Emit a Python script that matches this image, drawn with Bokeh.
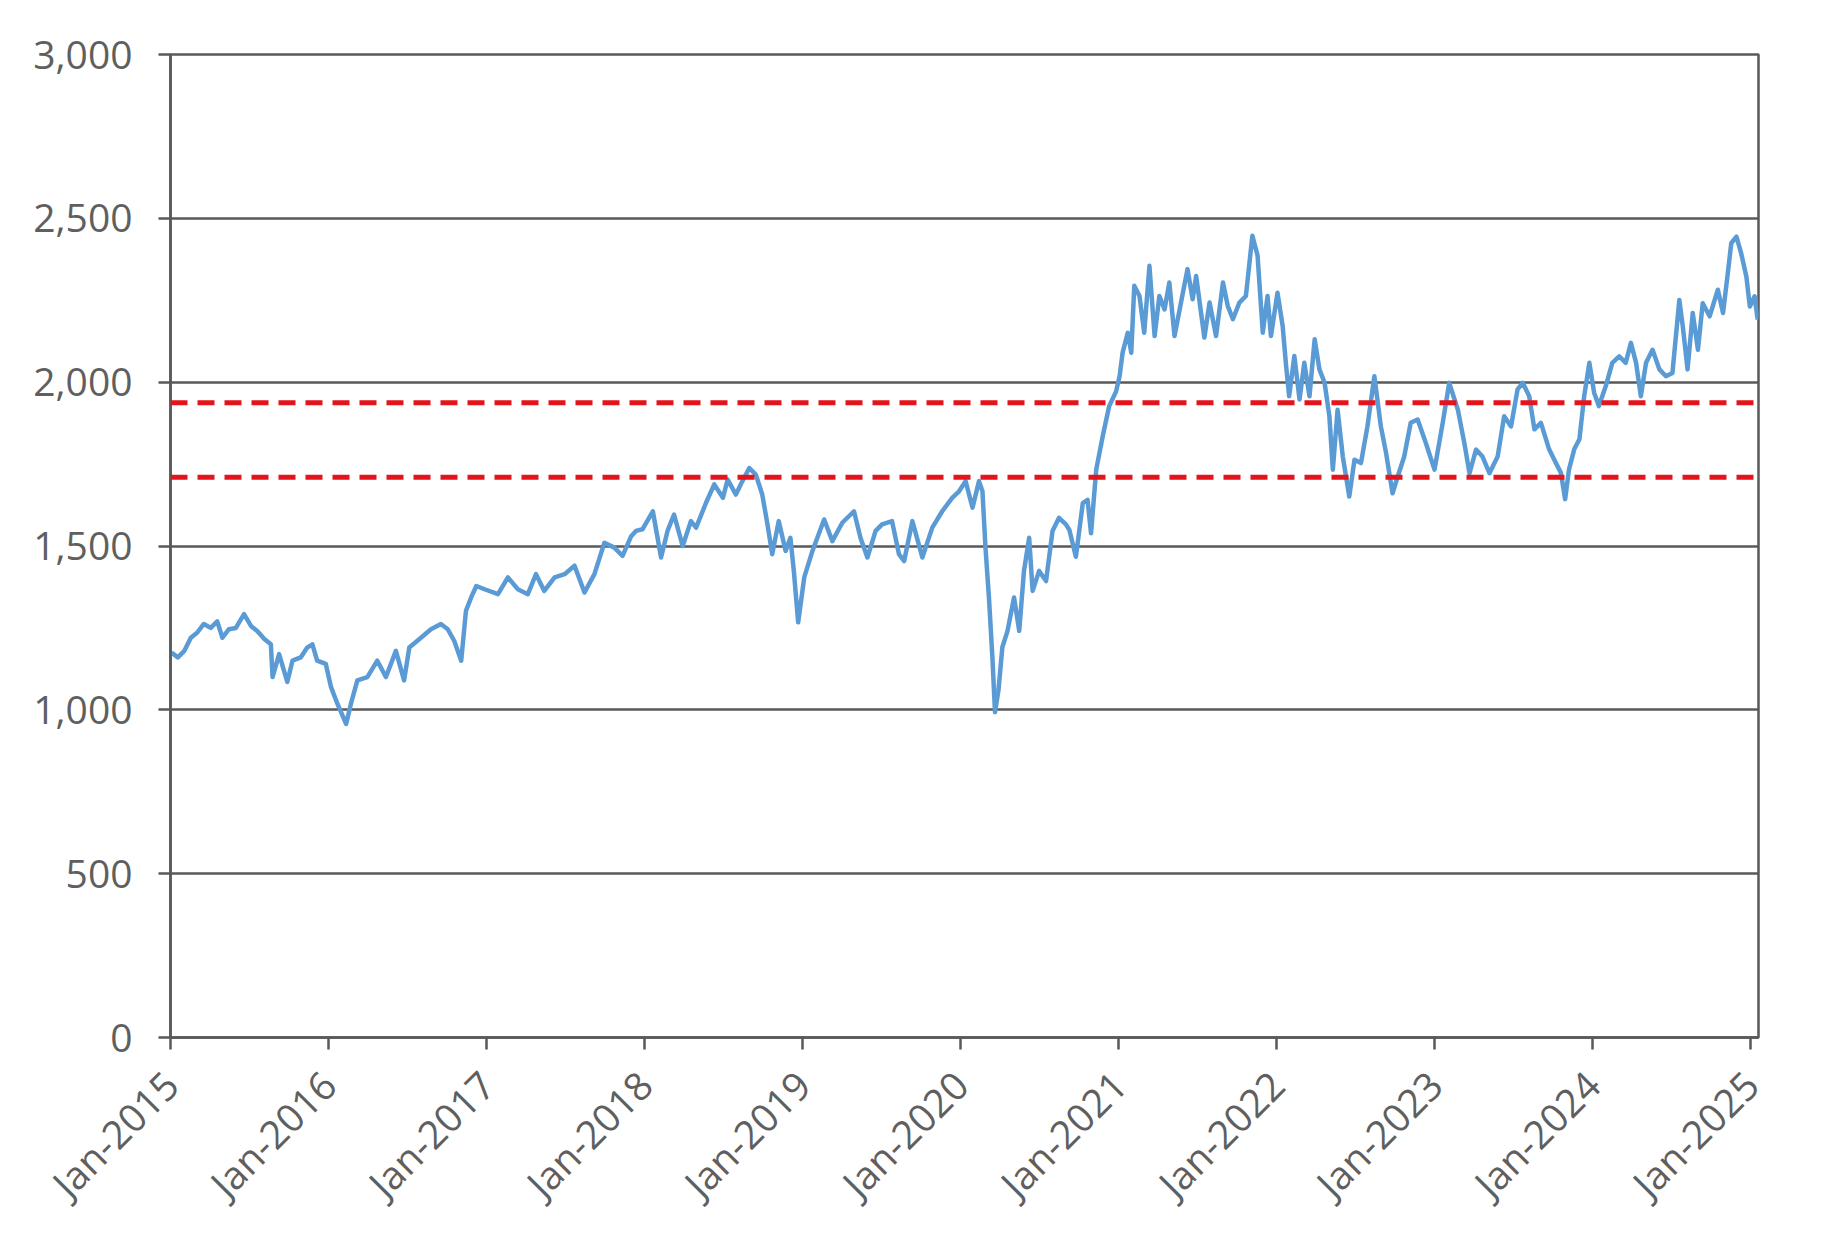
import pandas as pd
from math import pi
from bokeh.plotting import figure
from bokeh.models import Span, NumeralTickFormatter, FixedTicker, DatetimeTickFormatter, Range1d
from bokeh.embed import file_html
from bokeh.resources import INLINE

# ---- data ----
dates_a = ["2015-01-03","2015-01-18","2015-02-02","2015-02-17","2015-03-04","2015-03-19","2015-04-04",
           "2015-04-19","2015-05-01","2015-05-16","2015-06-01","2015-06-20","2015-07-06","2015-07-21",
           "2015-08-06","2015-08-21","2015-08-25","2015-09-09","2015-09-28","2015-10-10","2015-10-29",
           "2015-11-13","2015-11-25","2015-12-06","2015-12-26","2016-01-07","2016-01-22","2016-02-11",
           "2016-02-22","2016-03-08","2016-03-31","2016-04-23","2016-05-13","2016-06-05","2016-06-24",
           "2016-07-06","2016-08-02","2016-08-25","2016-09-17","2016-10-03","2016-10-18","2016-11-03",
           "2016-11-14","2016-11-26","2016-12-08","2016-12-27","2017-01-27","2017-02-19","2017-03-14",
           "2017-04-06","2017-04-25","2017-05-14","2017-06-07","2017-06-30","2017-07-23","2017-08-15",
           "2017-09-07","2017-09-30","2017-10-23","2017-11-11","2017-12-01"]
values_a = [1175,1160,1180,1220,1236,1262,1250,1270,1220,1246,1250,1292,1256,1240,1216,1200,1100,1170,
            1085,1150,1160,1190,1200,1150,1140,1070,1018,957,1018,1090,1100,1150,1100,1180,1090,1190,
            1220,1246,1262,1246,1210,1150,1302,1343,1378,1368,1353,1404,1368,1353,1414,1363,1404,1414,
            1440,1358,1414,1510,1495,1470,1530]

dates_b = ["2017-12-12","2017-12-27","2018-01-20","2018-02-08","2018-02-23","2018-03-10","2018-03-30",
           "2018-04-18","2018-04-30","2018-05-23","2018-06-11","2018-07-01","2018-07-12","2018-07-31",
           "2018-08-15","2018-08-31","2018-09-15","2018-09-30","2018-10-12","2018-10-23","2018-11-07",
           "2018-11-23","2018-12-04","2018-12-12","2018-12-22","2019-01-05","2019-01-24","2019-02-20",
           "2019-03-11","2019-04-03","2019-04-30","2019-05-15","2019-05-31","2019-06-19","2019-07-04",
           "2019-07-27","2019-08-12","2019-08-24","2019-09-12","2019-10-05","2019-10-28","2019-11-20",
           "2019-12-13","2019-12-29","2020-01-13","2020-01-29","2020-02-13","2020-02-21","2020-02-28",
           "2020-03-07","2020-03-15","2020-03-21","2020-03-29","2020-04-07","2020-04-19","2020-05-04",
           "2020-05-16","2020-05-27","2020-06-08","2020-06-16","2020-07-01","2020-07-17","2020-08-01",
           "2020-08-16","2020-09-01"]
values_b = [1546,1551,1606,1465,1546,1596,1500,1576,1556,1632,1688,1647,1703,1657,1698,1738,1718,1657,
            1566,1475,1576,1485,1525,1424,1267,1404,1485,1581,1515,1571,1606,1525,1465,1546,1566,1576,
            1475,1454,1576,1465,1556,1606,1647,1667,1698,1617,1698,1667,1495,1343,1160,993,1059,1191,
            1241,1343,1241,1424,1525,1363,1424,1393,1546,1586,1566]

dates_c = ["2020-09-09","2020-09-24","2020-10-10","2020-10-21","2020-10-29","2020-11-10","2020-11-25",
           "2020-12-10","2020-12-26","2021-01-03","2021-01-10","2021-01-22","2021-01-30","2021-02-06",
           "2021-02-18","2021-03-01","2021-03-13","2021-03-25","2021-04-05","2021-04-17","2021-04-28",
           "2021-05-10","2021-05-25","2021-06-09","2021-06-21","2021-06-29","2021-07-18","2021-07-30",
           "2021-08-14","2021-08-30","2021-09-10","2021-09-22","2021-10-07","2021-10-22","2021-11-06",
           "2021-11-18","2021-11-30","2021-12-11","2021-12-19","2022-01-03","2022-01-15","2022-01-23",
           "2022-01-30","2022-02-11","2022-02-23","2022-03-06","2022-03-18","2022-03-30","2022-04-10",
           "2022-04-22","2022-05-03","2022-05-11","2022-05-22","2022-06-03","2022-06-18","2022-06-30",
           "2022-07-15","2022-07-30","2022-08-15","2022-08-30","2022-09-11","2022-09-26","2022-10-08",
           "2022-10-23","2022-11-07","2022-11-23","2022-12-12","2023-01-01","2023-01-20","2023-02-04",
           "2023-02-24","2023-03-11","2023-03-23","2023-04-07","2023-04-22","2023-05-08","2023-05-27",
           "2023-06-11","2023-06-27","2023-07-12"]
values_c = [1549,1467,1631,1641,1539,1733,1835,1927,1972,2018,2090,2151,2090,2294,2263,2151,2355,2141,
            2263,2222,2304,2141,2243,2345,2253,2324,2136,2243,2141,2304,2233,2192,2243,2263,2447,2386,
            2151,2263,2141,2273,2171,2049,1957,2080,1947,2059,1957,2131,2039,1998,1896,1733,1916,1773,
            1651,1763,1753,1865,2018,1865,1784,1661,1712,1773,1876,1886,1814,1733,1876,1998,1916,1814,
            1722,1794,1773,1722,1773,1896,1865,1978]

dates_d = ["2023-07-24","2023-08-08","2023-08-20","2023-09-04","2023-09-23","2023-10-08","2023-10-20",
           "2023-10-30","2023-11-08","2023-11-20","2023-12-02","2023-12-13","2023-12-25","2024-01-05",
           "2024-01-16","2024-02-01","2024-02-16","2024-03-03","2024-03-18","2024-03-30","2024-04-11",
           "2024-04-22","2024-05-04","2024-05-19","2024-06-04","2024-06-19","2024-07-04","2024-07-20",
           "2024-07-28","2024-08-08","2024-08-20","2024-09-01","2024-09-12","2024-09-28","2024-10-17",
           "2024-10-29","2024-11-10","2024-11-17","2024-11-29","2024-12-10","2024-12-22","2024-12-30",
           "2025-01-10","2025-01-17"]
values_d = [1998,1957,1856,1876,1795,1755,1724,1643,1734,1795,1826,1957,2059,1968,1927,1988,2059,2079,
            2059,2120,2059,1957,2059,2099,2039,2018,2028,2251,2170,2039,2211,2099,2241,2201,2282,2211,
            2343,2424,2444,2393,2322,2231,2262,2191]

band_levels = [1937, 1710]
y_ticks = [0, 500, 1000, 1500, 2000, 2500, 3000]
x_tick_years = list(range(2015, 2026))

dates = pd.to_datetime(dates_a + dates_b + dates_c + dates_d)
values = values_a + values_b + values_c + values_d

GRID = "#595959"
FONT = "Open Sans"

p = figure(
    x_axis_type="datetime",
    frame_width=1588, frame_height=983,
    min_border_left=170, min_border_right=72, min_border_top=54, min_border_bottom=188,
    x_range=Range1d(pd.Timestamp("2015-01-01"), pd.Timestamp("2025-01-19")),
    y_range=Range1d(0, 3000),
    output_backend="svg", toolbar_location=None,
    background_fill_color="white", border_fill_color="white",
)

p.line(dates, values, line_color="#5B9BD5", line_width=4.5, line_join="round")

for lvl in band_levels:
    p.add_layout(Span(location=lvl, dimension="width", line_color="#E3141B",
                      line_width=5, line_dash="17 10"))

p.outline_line_color = GRID
p.outline_line_width = 2.5
p.xgrid.grid_line_color = None
p.ygrid.grid_line_color = GRID
p.ygrid.grid_line_width = 2.5
p.ygrid.grid_line_alpha = 1.0

p.yaxis.ticker = FixedTicker(ticks=y_ticks)
p.yaxis.formatter = NumeralTickFormatter(format="0,0")
p.xaxis.ticker = FixedTicker(ticks=[pd.Timestamp(f"{y}-01-01").value / 1e6 for y in x_tick_years])
fmt = "%b-%Y"
p.xaxis.formatter = DatetimeTickFormatter(years=fmt, months=fmt, days=fmt, hours=fmt, minutes=fmt,
                                          seconds=fmt, milliseconds=fmt, microseconds=fmt,
                                          hourmin=fmt, minsec=fmt)
p.xaxis.major_label_orientation = pi / 4

for ax in (p.xaxis, p.yaxis):
    ax.axis_line_color = GRID
    ax.axis_line_width = 2.5
    ax.major_tick_line_color = GRID
    ax.major_tick_line_width = 2.5
    ax.major_tick_out = 12
    ax.major_tick_in = 0
    ax.minor_tick_line_color = None
    ax.major_label_text_font = FONT
    ax.major_label_text_font_size = "39px"
    ax.major_label_text_color = "#5f5f5f"

p.yaxis.major_label_standoff = 26
p.xaxis.major_label_standoff = 28

open("out.html", "w").write(file_html(p, INLINE))
